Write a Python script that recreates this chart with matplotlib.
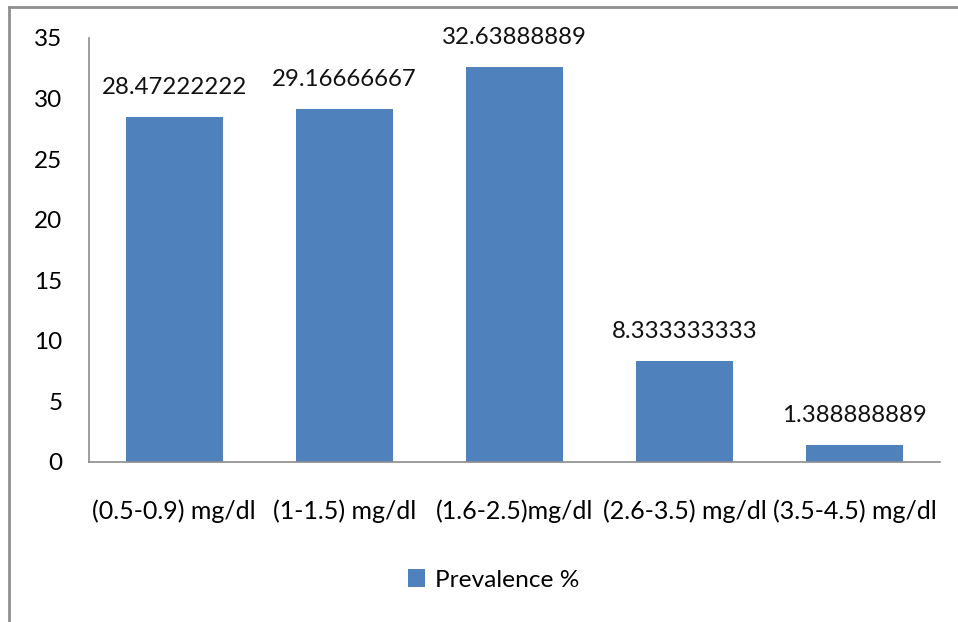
import matplotlib.pyplot as plt
from matplotlib.lines import Line2D

categories = ['(0.5-0.9) mg/dl', '(1-1.5) mg/dl', '(1.6-2.5)mg/dl', '(2.6-3.5) mg/dl', '(3.5-4.5) mg/dl']
prevalence = [28.47222222, 29.16666667, 32.63888889, 8.333333333, 1.388888889]
value_labels = ['28.47222222', '29.16666667', '32.63888889', '8.333333333', '1.388888889']
yticks = [0, 5, 10, 15, 20, 25, 30, 35]

plt.rcParams['font.family'] = ['Lato', 'DejaVu Sans']

W, H = 958, 622
fig = plt.figure(figsize=(W / 100, H / 100), dpi=100)
ax = fig.add_axes([89 / W, 1 - 462 / H, 851 / W, 424 / H])

x = range(len(categories))
bars = ax.bar(x, prevalence, width=0.57, color='#4F81BD', label='Prevalence %')

for xi, v, lab in zip(x, prevalence, value_labels):
    ax.text(xi, v + 1.55, lab, ha='center', va='bottom', fontsize=17.3, color='#111111')

ax.set_xlim(-0.5, len(categories) - 0.5)
ax.set_ylim(0, 35)
ax.set_yticks(yticks)
ax.set_xticks(list(x))
ax.set_xticklabels(categories)
ax.tick_params(axis='y', length=0, pad=19, labelsize=17.5)
ax.tick_params(axis='x', length=0, pad=27, labelsize=18)

for s in ['top', 'right']:
    ax.spines[s].set_visible(False)
for s in ['left', 'bottom']:
    ax.spines[s].set_color('#8c8c8c')
    ax.spines[s].set_linewidth(1.2)

fig.legend(handles=[bars], labels=['Prevalence %'], loc='center', bbox_to_anchor=(494 / W, 1 - 580 / H),
           frameon=False, fontsize=17.6, handlelength=0.7, handleheight=0.7, handletextpad=0.4)

# outer chart border (only top and left visible in the crop)
fig.add_artist(Line2D([9 / W, 9 / W], [0, 1 - 7 / H], transform=fig.transFigure, color='#8f8f8f', lw=2))
fig.add_artist(Line2D([9 / W, 1], [1 - 7 / H, 1 - 7 / H], transform=fig.transFigure, color='#8f8f8f', lw=2))

fig.savefig('out.png', dpi=100)
